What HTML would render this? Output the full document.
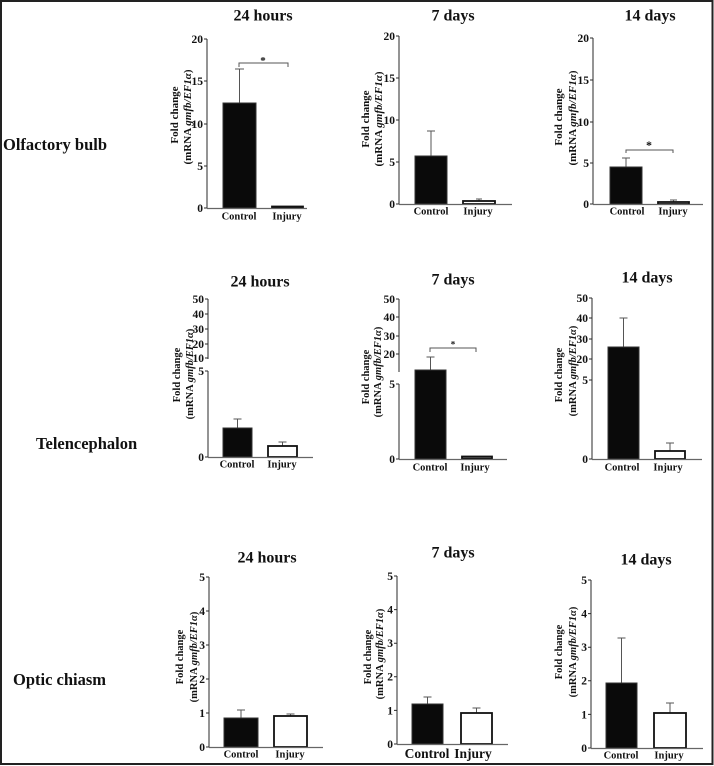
<!DOCTYPE html>
<html><head><meta charset="utf-8">
<style>
html,body{margin:0;padding:0;background:#fff;}
svg{display:block;font-family:"Liberation Serif","Times New Roman","DejaVu Serif","Noto Serif CJK SC",serif;}
svg text{font-family:"Liberation Serif","Times New Roman","DejaVu Serif","Noto Serif CJK SC",serif;font-weight:bold;fill:#111;}
.t{font-size:16px;text-anchor:middle;}
.r{font-size:16.5px;}
.k{font-size:11.5px;text-anchor:end;}
.c{font-size:10.5px;text-anchor:middle;}
.c2{font-size:13.5px;text-anchor:middle;}
.y{font-size:10.5px;text-anchor:middle;}
.ax{stroke:#2a2a2a;stroke-width:1;fill:none;}
.xa{stroke:#666;stroke-width:1.3;fill:none;}
.eb{stroke:#555;stroke-width:1;fill:none;}
.bk{fill:#0a0a0a;stroke:#333;stroke-width:1;}
.wh{fill:#fff;stroke:#111;stroke-width:1.8;}
.br{stroke:#555;stroke-width:1;fill:none;}
</style></head>
<body>
<svg width="714" height="766" viewBox="0 0 714 766" xmlns="http://www.w3.org/2000/svg" font-family="Liberation Serif, DejaVu Serif, serif">
<rect x="1" y="1" width="711.5" height="763" fill="#fff" stroke="#222" stroke-width="2"/>

<!-- Row labels -->
<text class="r" x="3" y="150">Olfactory bulb</text>
<text class="r" x="36" y="449">Telencephalon</text>
<text class="r" x="13" y="685">Optic chiasm</text>

<!-- ===== Panel 1: OB 24h ===== -->
<text class="t" x="263" y="20.5">24 hours</text>
<g transform="translate(178,115) rotate(-90)"><text class="y" style="font-size:11px">Fold change</text></g>
<g transform="translate(191,117) rotate(-90)"><text class="y" style="font-size:11px">(mRNA <tspan font-style="italic">gmfb/EF1α</tspan>)</text></g>
<path class="ax" d="M207,39V208M204,39H207M204,81H207M204,124H207M204,166H207M204,208H207"/>
<text class="k" x="203" y="43">20</text>
<text class="k" x="203" y="85">15</text>
<text class="k" x="203" y="128">10</text>
<text class="k" x="203" y="170">5</text>
<text class="k" x="203" y="212">0</text>
<path class="eb" d="M239.5,103V69M235,69H244"/>
<rect class="bk" x="223" y="103" width="33" height="105"/>
<rect class="wh" x="272" y="206.5" width="31" height="1.2"/>
<path class="xa" d="M207,208.5H307"/>
<path class="br" d="M239,67V63H288V67"/>
<text x="263" y="64" style="font-size:11px;text-anchor:middle">*</text>
<text class="c" x="239" y="219.5">Control</text>
<text class="c" x="287" y="219.5">Injury</text>

<!-- ===== Panel 2: OB 7d ===== -->
<text class="t" x="453" y="20.5">7 days</text>
<g transform="translate(369,119) rotate(-90)"><text class="y" style="font-size:11px">Fold change</text></g>
<g transform="translate(382,119) rotate(-90)"><text class="y" style="font-size:11px">(mRNA <tspan font-style="italic">gmfb/EF1α</tspan>)</text></g>
<path class="ax" d="M399,36V204M396,36H399M396,78H399M396,120H399M396,162H399M396,204H399"/>
<text class="k" x="395" y="40">20</text>
<text class="k" x="395" y="82">15</text>
<text class="k" x="395" y="124">10</text>
<text class="k" x="395" y="166">5</text>
<text class="k" x="395" y="208">0</text>
<path class="eb" d="M431,156V131M427,131H435"/>
<rect class="bk" x="415" y="156" width="32" height="48"/>
<path class="eb" d="M479,201V199M476,199H482"/>
<rect class="wh" x="463" y="201" width="32" height="3"/>
<path class="xa" d="M399,204.5H512"/>
<text class="c" x="431" y="214.5">Control</text>
<text class="c" x="478" y="214.5">Injury</text>

<!-- ===== Panel 3: OB 14d ===== -->
<text class="t" x="650" y="20.5">14 days</text>
<g transform="translate(562,117) rotate(-90)"><text class="y" style="font-size:11px">Fold change</text></g>
<g transform="translate(576,118) rotate(-90)"><text class="y" style="font-size:11px">(mRNA <tspan font-style="italic">gmfb/EF1α</tspan>)</text></g>
<path class="ax" d="M593,38V204M590,38H593M590,80H593M590,122H593M590,163H593M590,204H593"/>
<text class="k" x="589" y="42">20</text>
<text class="k" x="589" y="84">15</text>
<text class="k" x="589" y="126">10</text>
<text class="k" x="589" y="167">5</text>
<text class="k" x="589" y="208">0</text>
<path class="eb" d="M626,167V158M622,158H630"/>
<rect class="bk" x="610" y="167" width="32" height="37"/>
<path class="eb" d="M673.5,202V200M670,200H677"/>
<rect class="wh" x="658" y="202" width="31" height="2"/>
<path class="xa" d="M593,204.5H703"/>
<path class="br" d="M626,153V150H673V153"/>
<text x="649" y="149" style="font-size:12px;text-anchor:middle">*</text>
<text class="c" x="627" y="214.5">Control</text>
<text class="c" x="673" y="214.5">Injury</text>

<!-- ===== Panel 4: Tel 24h ===== -->
<text class="t" x="260" y="286.5">24 hours</text>
<g transform="translate(180,375) rotate(-90)"><text class="y">Fold change</text></g>
<g transform="translate(193,374) rotate(-90)"><text class="y">(mRNA <tspan font-style="italic">gmfb/EF1α</tspan>)</text></g>
<path class="ax" d="M208,299V359M205,299H208M205,314H208M205,329H208M205,344H208M205,358H208"/>
<path class="ax" d="M208,371V457M205,371H208M205,457H208"/>
<text class="k" x="204" y="303">50</text>
<text class="k" x="204" y="318">40</text>
<text class="k" x="204" y="333">30</text>
<text class="k" x="204" y="348">20</text>
<text class="k" x="204" y="362">10</text>
<text class="k" x="204" y="375">5</text>
<text class="k" x="204" y="461">0</text>
<path class="eb" d="M237.5,428V419M233.5,419H241.5"/>
<rect class="bk" x="223" y="428" width="29" height="29"/>
<path class="eb" d="M282.5,446V442M278.5,442H286.5"/>
<rect class="wh" x="268" y="446" width="29" height="11"/>
<path class="xa" d="M208,457.5H313"/>
<text class="c" x="237" y="467.5">Control</text>
<text class="c" x="282" y="467.5">Injury</text>

<!-- ===== Panel 5: Tel 7d ===== -->
<text class="t" x="453" y="284.5">7 days</text>
<g transform="translate(369,377) rotate(-90)"><text class="y">Fold change</text></g>
<g transform="translate(381,372) rotate(-90)"><text class="y">(mRNA <tspan font-style="italic">gmfb/EF1α</tspan>)</text></g>
<path class="ax" d="M399,299V372M396,299H399M396,317H399M396,336H399M396,354H399"/>
<path class="ax" d="M399,384V459M396,384H399M396,459H399"/>
<text class="k" x="395" y="303">50</text>
<text class="k" x="395" y="321">40</text>
<text class="k" x="395" y="340">30</text>
<text class="k" x="395" y="358">20</text>
<text class="k" x="395" y="388">5</text>
<text class="k" x="395" y="463">0</text>
<path class="eb" d="M430.5,370V357M426.5,357H434.5"/>
<rect class="bk" x="415" y="370" width="31" height="89"/>
<rect class="wh" x="462" y="456.5" width="30" height="2"/>
<path class="xa" d="M399,459.5H507"/>
<path class="br" d="M430,352V348H476V352"/>
<text x="453" y="347.5" style="font-size:9px;text-anchor:middle">*</text>
<text class="c" x="430" y="470.5">Control</text>
<text class="c" x="475" y="470.5">Injury</text>

<!-- ===== Panel 6: Tel 14d ===== -->
<text class="t" x="647" y="282.5">14 days</text>
<g transform="translate(562,375) rotate(-90)"><text class="y">Fold change</text></g>
<g transform="translate(576,371) rotate(-90)"><text class="y">(mRNA <tspan font-style="italic">gmfb/EF1α</tspan>)</text></g>
<path class="ax" d="M592,298V459M589,298H592M589,318H592M589,339H592M589,359H592M589,380H592M589,459H592"/>
<text class="k" x="588" y="302">50</text>
<text class="k" x="588" y="322">40</text>
<text class="k" x="588" y="343">30</text>
<text class="k" x="588" y="363">20</text>
<text class="k" x="588" y="384">5</text>
<text class="k" x="588" y="463">0</text>
<path class="eb" d="M623.5,347V318M619.5,318H627.5"/>
<rect class="bk" x="608" y="347" width="31" height="112"/>
<path class="eb" d="M670,451V443M666,443H674"/>
<rect class="wh" x="655" y="451" width="30" height="8"/>
<path class="xa" d="M592,459.5H702"/>
<text class="c" x="622" y="470.5">Control</text>
<text class="c" x="668" y="470.5">Injury</text>

<!-- ===== Panel 7: OC 24h ===== -->
<text class="t" x="267" y="562.5">24 hours</text>
<g transform="translate(183,657) rotate(-90)"><text class="y">Fold change</text></g>
<g transform="translate(197,657) rotate(-90)"><text class="y">(mRNA <tspan font-style="italic">gmfb/EF1α</tspan>)</text></g>
<path class="ax" d="M209,577V747M206,577H209M206,611H209M206,645H209M206,679H209M206,713H209M206,747H209"/>
<text class="k" x="205" y="581">5</text>
<text class="k" x="205" y="615">4</text>
<text class="k" x="205" y="649">3</text>
<text class="k" x="205" y="683">2</text>
<text class="k" x="205" y="717">1</text>
<text class="k" x="205" y="751">0</text>
<path class="eb" d="M241,718V710M237,710H245"/>
<rect class="bk" x="224" y="718" width="34" height="29"/>
<path class="eb" d="M290.5,716V714M286.5,714H294.5"/>
<rect class="wh" x="274" y="716" width="33" height="31"/>
<path class="xa" d="M209,747.5H323"/>
<text class="c" x="241" y="757.5">Control</text>
<text class="c" x="290" y="757.5">Injury</text>

<!-- ===== Panel 8: OC 7d ===== -->
<text class="t" x="453" y="557.5">7 days</text>
<g transform="translate(371,657) rotate(-90)"><text class="y">Fold change</text></g>
<g transform="translate(383,654) rotate(-90)"><text class="y">(mRNA <tspan font-style="italic">gmfb/EF1α</tspan>)</text></g>
<path class="ax" d="M397,576V744M394,576H397M394,609.6H397M394,643.2H397M394,676.8H397M394,710.4H397M394,744H397"/>
<text class="k" x="393" y="580">5</text>
<text class="k" x="393" y="613.5">4</text>
<text class="k" x="393" y="647">3</text>
<text class="k" x="393" y="680.5">2</text>
<text class="k" x="393" y="714.5">1</text>
<text class="k" x="393" y="748">0</text>
<path class="eb" d="M427.5,704V697M423.5,697H431.5"/>
<rect class="bk" x="412" y="704" width="31" height="40"/>
<path class="eb" d="M476.5,713V708M472.5,708H480.5"/>
<rect class="wh" x="461" y="713" width="31" height="31"/>
<path class="xa" d="M397,744.5H508"/>
<text class="c2" x="427" y="758">Control</text>
<text class="c2" x="473" y="758">Injury</text>

<!-- ===== Panel 9: OC 14d ===== -->
<text class="t" x="646" y="564.5">14 days</text>
<g transform="translate(562,652) rotate(-90)"><text class="y">Fold change</text></g>
<g transform="translate(576,652) rotate(-90)"><text class="y">(mRNA <tspan font-style="italic">gmfb/EF1α</tspan>)</text></g>
<path class="ax" d="M591,580V748M588,580H591M588,613.6H591M588,647.2H591M588,680.8H591M588,714.4H591M588,748H591"/>
<text class="k" x="587" y="584">5</text>
<text class="k" x="587" y="617.5">4</text>
<text class="k" x="587" y="651">3</text>
<text class="k" x="587" y="684.5">2</text>
<text class="k" x="587" y="718.5">1</text>
<text class="k" x="587" y="752">0</text>
<path class="eb" d="M621.5,683V638M617.5,638H625.5"/>
<rect class="bk" x="606" y="683" width="31" height="65"/>
<path class="eb" d="M670,713V703M666,703H674"/>
<rect class="wh" x="654" y="713" width="32" height="35"/>
<path class="xa" d="M591,748.5H703"/>
<text class="c" x="621" y="758.5">Control</text>
<text class="c" x="669" y="758.5">Injury</text>
</svg>
</body></html>
